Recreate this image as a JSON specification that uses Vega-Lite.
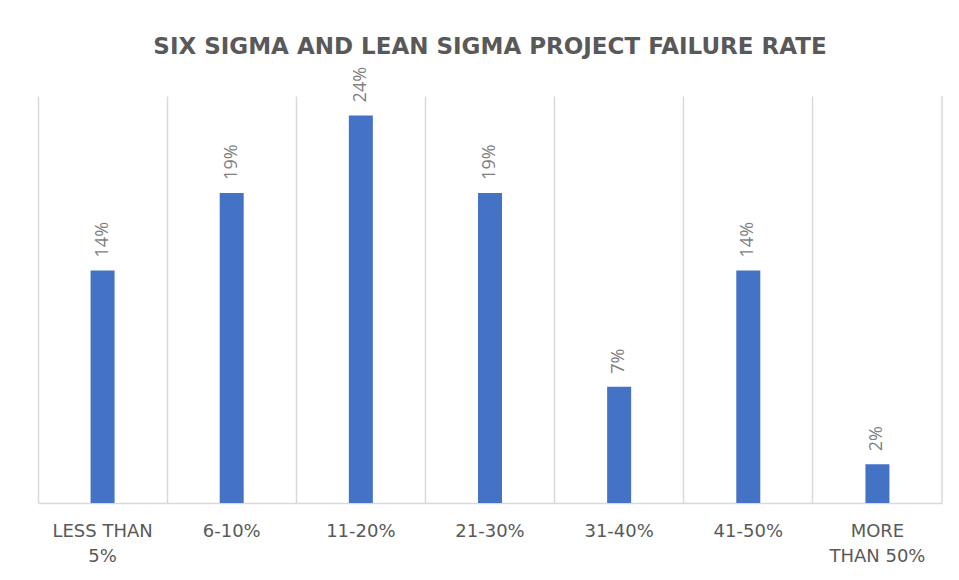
{
  "$schema": "https://vega.github.io/schema/vega-lite/v6.json",
  "autosize": "none",
  "width": 904,
  "height": 407,
  "padding": {"left": 38, "top": 96, "right": 17, "bottom": 77},
  "background": "white",
  "title": {
    "text": "SIX SIGMA AND LEAN SIGMA PROJECT FAILURE RATE",
    "font": "DejaVu Sans",
    "fontSize": 23,
    "fontWeight": "bold",
    "color": "#595959",
    "anchor": "middle",
    "frame": "group",
    "baseline": "alphabetic",
    "offset": 42,
    "dy": 52
  },
  "config": {"view": {"stroke": null}},
  "data": {
    "values": [
      {"range": "LESS THAN 5%", "share": 0.142857},
      {"range": "6-10%", "share": 0.190476},
      {"range": "11-20%", "share": 0.238095},
      {"range": "21-30%", "share": 0.190476},
      {"range": "31-40%", "share": 0.071429},
      {"range": "41-50%", "share": 0.142857},
      {"range": "MORE THAN 50%", "share": 0.02381}
    ]
  },
  "encoding": {
    "x": {
      "field": "range",
      "type": "nominal",
      "sort": null,
      "scale": {"paddingInner": 0, "paddingOuter": 0},
      "axis": {
        "title": null,
        "labelAngle": 0,
        "labelFont": "DejaVu Sans",
        "labelFontSize": 18,
        "labelColor": "#595959",
        "labelBaseline": "top",
        "labelPadding": 19,
        "labelLineHeight": 25,
        "labelExpr": "datum.value == 'LESS THAN 5%' ? ['LESS THAN', '5%'] : datum.value == 'MORE THAN 50%' ? ['MORE', 'THAN 50%'] : datum.value",
        "ticks": false,
        "domainColor": "#d9d9d9",
        "domainWidth": 1.5,
        "grid": true,
        "gridColor": "#d9d9d9",
        "gridWidth": 1.5,
        "bandPosition": 0
      }
    },
    "y": {
      "field": "share",
      "type": "quantitative",
      "scale": {"domain": [0, 0.25], "nice": false},
      "axis": null
    }
  },
  "layer": [
    {
      "mark": {"type": "bar", "size": 24, "color": "#4472C4"}
    },
    {
      "mark": {
        "type": "text",
        "angle": 270,
        "align": "left",
        "baseline": "middle",
        "dx": 13,
        "font": "Open Sans",
        "fontSize": 18,
        "color": "#7f7f7f"
      },
      "encoding": {
        "text": {"field": "share", "type": "quantitative", "format": ".0%"}
      }
    },
    {
      "transform": [{"filter": "datum.range == 'MORE THAN 50%'"}],
      "mark": {"type": "rule", "color": "#d9d9d9", "strokeWidth": 1.5},
      "encoding": {
        "x": {"field": "range", "type": "nominal", "sort": null, "bandPosition": 1},
        "y": {"datum": 0},
        "y2": {"datum": 0.25}
      }
    }
  ]
}
